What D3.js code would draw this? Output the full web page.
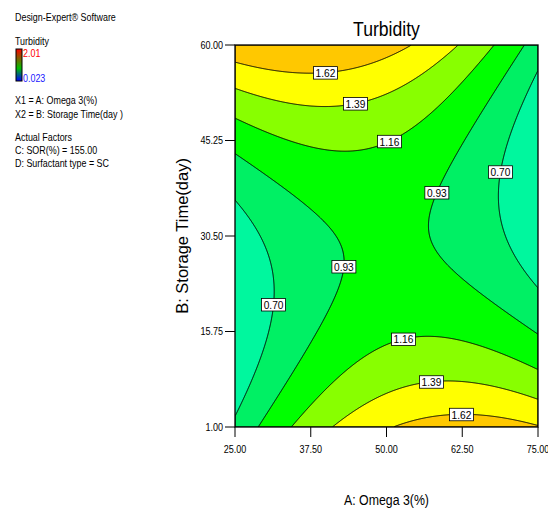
<!DOCTYPE html>
<html>
<head>
<meta charset="utf-8">
<script src="https://cdn.jsdelivr.net/npm/d3@7"></script>
<style>
  body { margin: 0; background: #fff; }
  text { font-family: 'Liberation Sans', Arial, sans-serif; fill: #000; }
</style>
</head>
<body>
<script>
// contour levels and the fill of each band (below first level ... above last level)
let levels = [0.70, 0.93, 1.16, 1.39, 1.62]
let bandColors = ['#00F79E', '#00F064', '#00FF00', '#88FF00', '#FFFF00', '#FFC800']

// fitted quadratic model in coded factors (A, B in -1..1)
let termNames = ['Intercept', 'A', 'B', 'AB', 'A^2', 'B^2']
let coefs = [0.969, -0.020, 0.055, -0.464, -0.411, 0.687]

let aRange = [25, 75]
let bRange = [1, 60]
let xTicks = [25, 37.5, 50, 62.5, 75]
let yTicks = [1, 15.75, 30.5, 45.25, 60]

// where Design-Expert put the contour labels (A, B in actual units)
let labelLevels = [1.62, 1.39, 1.16, 0.93, 0.70, 0.93, 0.70, 1.16, 1.39, 1.62]
let labelA = [39.9, 44.5, 49.9, 57.0, 68.2, 43.8, 31.3, 52.6, 57.4, 62.3]
let labelB = [57.0, 52.7, 46.5, 37.7, 40.5, 25.7, 20.0, 15.1, 8.6, 3.7]

let legendTop = ['Design-Expert® Software']
let legendFactors = ['X1 = A: Omega 3(%)', 'X2 = B: Storage Time(day )']
let legendActual = ['Actual Factors', 'C: SOR(%) = 155.00', 'D: Surfactant type = SC']
let colorbarRange = ['2.01', '0.023']

let margin = { top: 45, left: 235 }
let width = 303
let height = 382

let svg = d3.select('body')
    .append('svg')
        .attr('width', 548)
        .attr('height', 508)

function condense(sel, k) {
    sel.each(function() {
        let len = this.getComputedTextLength()
        d3.select(this)
            .attr('textLength', len * k)
            .attr('lengthAdjust', 'spacingAndGlyphs')
    })
}

let x = d3.scaleLinear().domain(aRange).range([0, width])
let y = d3.scaleLinear().domain(bRange).range([height, 0])

function model(a, b) {
    let u = (a - 50) / 25
    let v = (b - 30.5) / 29.5
    let t = [1, u, v, u * v, u * u, v * v]
    return d3.sum(t, (d, i) => d * coefs[i])
}

// evaluate on a pixel grid
let nx = width, ny = height
let values = new Array(nx * ny)
for (let j = 0; j < ny; j++) {
    for (let i = 0; i < nx; i++) {
        values[j * nx + i] = model(x.invert(i + 0.5), y.invert(j + 0.5))
    }
}

let contours = d3.contours()
    .size([nx, ny])
    .thresholds(levels)(values)

let gridToPx = d3.geoTransform({
    point: function(gx, gy) {
        this.stream.point(x(x.invert(gx)), y(y.invert(gy)))
    }
})
let path = d3.geoPath(gridToPx)

let g = svg.append('g')
    .attr('transform', 'translate(' + margin.left + ',' + margin.top + ')')

g.append('clipPath')
    .attr('id', 'plotclip')
    .append('rect')
        .attr('width', width)
        .attr('height', height)

let plot = g.append('g').attr('clip-path', 'url(#plotclip)')

plot.append('rect')
    .attr('width', width)
    .attr('height', height)
    .attr('fill', bandColors[0])

plot.selectAll('path.band')
    .data(contours)
    .enter()
    .append('path')
        .attr('class', 'band')
        .attr('d', path)
        .attr('fill', (d, i) => bandColors[i + 1])
        .attr('stroke', '#000')
        .attr('stroke-width', 1)

// contour labels, snapped onto the line nearest the anchor
let labels = labelLevels.map((lv, i) => {
    let c = contours.find(d => Math.abs(d.value - lv) < 1e-6)
    let ax = x(labelA[i]), ay = y(labelB[i])
    let best = [ax, ay], bestD = Infinity
    c.coordinates.forEach(poly => poly.forEach(ring => ring.forEach(p => {
        if (p[0] < 3 || p[0] > nx - 3 || p[1] < 3 || p[1] > ny - 3) return
        let dd = (p[0] - ax) ** 2 + (p[1] - ay) ** 2
        if (dd < bestD) { bestD = dd; best = p }
    })))
    return { text: lv.toFixed(2), px: best[0], py: best[1] }
})

let lab = plot.selectAll('g.lab')
    .data(labels)
    .enter()
    .append('g')
        .attr('class', 'lab')
        .attr('transform', d => 'translate(' + d.px + ',' + d.py + ')')

lab.append('rect')
    .attr('x', -12)
    .attr('y', -6)
    .attr('width', 24)
    .attr('height', 12.5)
    .attr('fill', '#fff')
    .attr('stroke', '#000')
    .attr('stroke-width', 0.8)

lab.append('text')
    .attr('text-anchor', 'middle')
    .attr('y', 4.3)
    .attr('font-size', '11.8px')
    .text(d => d.text)
    .call(condense, 0.86)

// frame
g.append('rect')
    .attr('width', width)
    .attr('height', height)
    .attr('fill', 'none')
    .attr('stroke', '#000')
    .attr('stroke-width', 1.3)

// x axis
let xAxis = g.append('g')
    .attr('transform', 'translate(0,' + height + ')')
xAxis.selectAll('line')
    .data(xTicks)
    .enter()
    .append('line')
        .attr('x1', d => x(d))
        .attr('x2', d => x(d))
        .attr('y1', 0)
        .attr('y2', 10)
        .attr('stroke', '#000')
xAxis.selectAll('text')
    .data(xTicks)
    .enter()
    .append('text')
        .attr('x', d => x(d))
        .attr('y', 25.5)
        .attr('text-anchor', 'middle')
        .attr('font-size', '10.5px')
        .text(d => d.toFixed(2))
        .call(condense, 0.86)

// y axis
let yAxis = g.append('g')
yAxis.selectAll('line')
    .data(yTicks)
    .enter()
    .append('line')
        .attr('x1', -10)
        .attr('x2', 0)
        .attr('y1', d => y(d))
        .attr('y2', d => y(d))
        .attr('stroke', '#000')
yAxis.selectAll('text')
    .data(yTicks)
    .enter()
    .append('text')
        .attr('x', -12)
        .attr('y', d => y(d) + 3.8)
        .attr('text-anchor', 'end')
        .attr('font-size', '10.5px')
        .text(d => d.toFixed(2))
        .call(condense, 0.86)

// titles
svg.append('text')
    .attr('x', margin.left + width / 2)
    .attr('y', 36)
    .attr('text-anchor', 'middle')
    .attr('font-size', '20px')
    .text('Turbidity')
    .call(condense, 0.88)

svg.append('text')
    .attr('x', margin.left + width / 2)
    .attr('y', 505)
    .attr('text-anchor', 'middle')
    .attr('font-size', '14px')
    .text('A: Omega 3(%)')
    .call(condense, 0.88)

svg.append('text')
    .attr('transform', 'translate(188,' + (margin.top + height / 2) + ') rotate(-90)')
    .attr('text-anchor', 'middle')
    .attr('font-size', '16px')
    .text('B: Storage Time(day)')
    .call(condense, 1.03)

// left legend
let leg = svg.append('g')
leg.append('text')
    .attr('x', 15).attr('y', 21)
    .attr('font-size', '10.5px')
    .text(legendTop[0])
    .call(condense, 0.85)
leg.append('text')
    .attr('x', 15).attr('y', 45)
    .attr('font-size', '10.5px')
    .text('Turbidity')
    .call(condense, 0.85)

let grad = svg.append('defs')
    .append('linearGradient')
        .attr('id', 'cbar')
        .attr('x1', 0).attr('y1', 0).attr('x2', 0).attr('y2', 1)
grad.selectAll('stop')
    .data([['0%', '#ff0000'], ['30%', '#806000'], ['60%', '#00c000'], ['100%', '#0000ff']])
    .enter()
    .append('stop')
        .attr('offset', d => d[0])
        .attr('stop-color', d => d[1])

leg.append('rect')
    .attr('x', 16).attr('y', 49)
    .attr('width', 6).attr('height', 32)
    .attr('fill', 'url(#cbar)')
    .attr('stroke', '#000')
    .attr('stroke-width', 1)
leg.append('text')
    .attr('x', 23).attr('y', 56.5)
    .attr('font-size', '10.5px')
    .style('fill', '#ff0000')
    .text(colorbarRange[0])
    .call(condense, 0.85)
leg.append('text')
    .attr('x', 23).attr('y', 81.5)
    .attr('font-size', '10.5px')
    .style('fill', '#2020ff')
    .text(colorbarRange[1])
    .call(condense, 0.85)

leg.selectAll('text.fac')
    .data(legendFactors)
    .enter()
    .append('text')
        .attr('class', 'fac')
        .attr('x', 15)
        .attr('y', (d, i) => 104.3 + i * 14)
        .attr('font-size', '10.5px')
        .text(d => d)
        .call(condense, 0.85)

leg.selectAll('text.act')
    .data(legendActual)
    .enter()
    .append('text')
        .attr('class', 'act')
        .attr('x', 15)
        .attr('y', (d, i) => 141 + i * 12.8)
        .attr('font-size', '10.5px')
        .text(d => d)
        .call(condense, 0.85)
</script>
</body>
</html>
